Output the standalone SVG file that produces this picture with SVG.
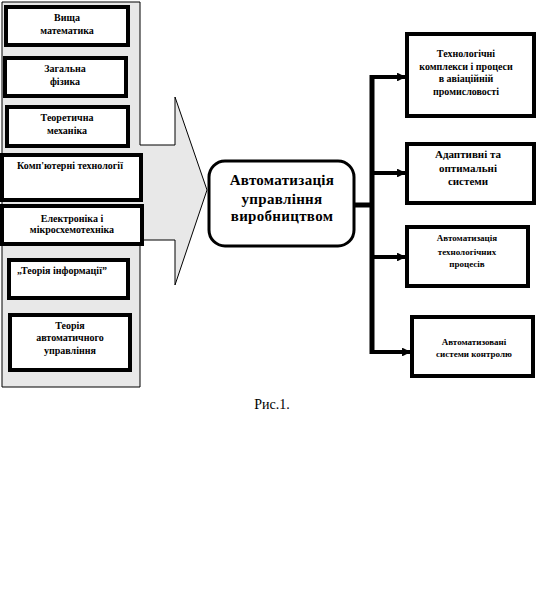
<svg xmlns="http://www.w3.org/2000/svg" width="537" height="596" viewBox="0 0 537 596">
<style>
.box{fill:#fff;stroke:#000;stroke-width:4}
.t{font-family:"Liberation Serif","DejaVu Serif",serif;font-weight:bold;font-size:10px;text-anchor:middle;fill:#000}
.c{font-family:"Liberation Serif","DejaVu Serif",serif;font-weight:bold;font-size:15px;text-anchor:middle;fill:#000;letter-spacing:0.3px}
.ln{stroke:#000;stroke-width:4;fill:none}
.cap{font-family:"Liberation Serif","DejaVu Serif",serif;font-size:14px;text-anchor:middle;fill:#000}
</style>
<defs>
<marker id="ah" viewBox="0 0 10 10" refX="9" refY="5" markerWidth="2.2" markerHeight="2.2" orient="auto" markerUnits="strokeWidth">
<path d="M0,0 L10,5 L0,10 Z" fill="#000"/>
</marker>
</defs>
<rect width="537" height="596" fill="#fff"/>
<g id="panel">
<path d="M2,2 H140 V145 H175 V97 L207,190 L175,285 V240 H140 V387 H2 Z" fill="#e8e8e8" stroke="#000" stroke-width="1"/>
</g>
<g id="n1"><rect class="box" x="6" y="7" width="122" height="38"/><text class="t" x="67" y="21">Вища</text><text class="t" x="67" y="34">математика</text></g>
<g id="n2"><rect class="box" x="5" y="58" width="121" height="38"/><text class="t" x="65" y="72">Загальна</text><text class="t" x="65" y="85">фізика</text></g>
<g id="n3"><rect class="box" x="7" y="107" width="121" height="39"/><text class="t" x="67" y="121">Теоретична</text><text class="t" x="67" y="134">механіка</text></g>
<g id="n4"><rect class="box" x="2" y="155" width="139" height="45"/><text class="t" x="70" y="169">Комп'ютерні  технології</text></g>
<g id="n5"><rect class="box" x="2" y="206" width="140" height="38"/><text class="t" x="72" y="222">Електроніка і</text><text class="t" x="72" y="233">мікросхемотехніка</text></g>
<g id="n6"><rect class="box" x="9" y="260" width="119" height="38"/><text class="t" x="17" y="274" style="text-anchor:start">„Теорія інформації”</text></g>
<g id="n7"><rect class="box" x="10" y="315" width="120" height="55"/><text class="t" x="70" y="329">Теорія</text><text class="t" x="70" y="341">автоматичного</text><text class="t" x="70" y="354">управління</text></g>
<g id="center"><rect x="209" y="161" width="145" height="85" rx="16" ry="16" fill="#fff" stroke="#000" stroke-width="3"/><text class="c" x="282" y="185">Автоматизація</text><text class="c" x="282" y="204">управління</text><text class="c" x="282" y="221">виробництвом</text></g>
<g id="connectors">
<line x1="355" y1="205" x2="374" y2="205" stroke="#000" stroke-width="5"/>
<line x1="372" y1="75" x2="372" y2="354" stroke="#000" stroke-width="5"/>
<line class="ln" x1="372" y1="77" x2="405" y2="77" marker-end="url(#ah)"/>
<line class="ln" x1="372" y1="173" x2="405" y2="173" marker-end="url(#ah)"/>
<line class="ln" x1="372" y1="257" x2="405" y2="257" marker-end="url(#ah)"/>
<line class="ln" x1="372" y1="352" x2="410" y2="352" marker-end="url(#ah)"/>
</g>
<g id="r1"><rect class="box" x="407" y="34" width="127" height="82"/><text class="t" x="466" y="57">Технологічні</text><text class="t" x="466" y="70">комплекси і процеси</text><text class="t" x="466" y="82">в авіаційній</text><text class="t" x="466" y="95">промисловості</text></g>
<g id="r2"><rect class="box" x="407" y="144" width="127" height="59"/><text class="t" x="468" y="158" style="font-size:11px">Адаптивні та</text><text class="t" x="468" y="172" style="font-size:11px">оптимальні</text><text class="t" x="468" y="185" style="font-size:11px">системи</text></g>
<g id="r3"><rect class="box" x="407" y="227" width="121" height="59"/><text class="t" x="467" y="241" style="font-size:9px">Автоматизація</text><text class="t" x="467" y="255" style="font-size:9px">технологічних</text><text class="t" x="467" y="267" style="font-size:9px">процесів</text></g>
<g id="r4"><rect class="box" x="412" y="317" width="121" height="59"/><text class="t" x="474" y="345" style="font-size:9px">Автоматизовані</text><text class="t" x="474" y="357" style="font-size:9px">системи контролю</text></g>
<text class="cap" x="272" y="409">Рис.1.</text>
</svg>
